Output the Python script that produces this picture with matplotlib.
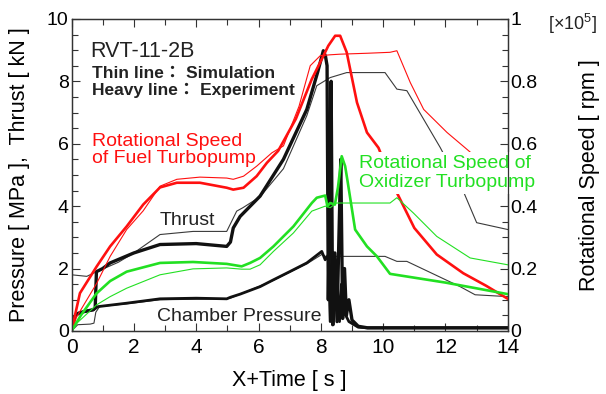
import matplotlib
matplotlib.use("Agg")
import matplotlib.pyplot as plt
from matplotlib.ticker import MultipleLocator, FuncFormatter

plt.rcParams['font.family'] = ['Liberation Sans', 'Noto Sans CJK JP', 'DejaVu Sans']
plt.rcParams['mathtext.fontset'] = 'custom'
plt.rcParams['mathtext.rm'] = 'Liberation Sans'

# ---------------- data ----------------
# Rotational speed of fuel turbopump [x1e5 rpm]
fuel_exp_t = [0, 0.27, 0.81, 1.24, 1.77, 2.3, 2.84, 3.38, 4.12, 4.98, 5.19, 5.52, 5.94, 6.27, 6.63,
              7.2, 7.71, 8.03, 8.24, 8.46, 8.62, 8.83, 9.16, 9.48, 9.85, 10.2, 10.44, 11.0, 11.72,
              12.57, 13.3, 14.0]
fuel_exp = [0, .121, .207, .271, .335, .405, .46, .475, .475, .459, .453, .459, .496, .539, .577,
            .68, .807, .871, .914, .946, .946, .893, .732, .636, .587, .50, .443, .33, .245,
            .185, .145, .103]
fuel_sim_t = [0, 0.17, 0.81, 1.24, 1.77, 2.3, 2.84, 3.38, 4.12, 4.98, 5.19, 5.52, 5.94, 6.43, 6.8,
              7.3, 7.66, 7.98, 8.3, 8.62, 9.5, 10.22, 10.44, 10.87, 11.3, 12.05, 12.63, 13.3, 14.0]
fuel_sim = [0, .046, .153, .239, .325, .385, .464, .486, .493, .49, .486, .496, .528, .571, .593,
            .72, .85, .882, .885, .887, .89, .893, .898, .796, .71, .636, .587, .53, .47]

# Rotational speed of oxidizer turbopump [x1e5 rpm]
ox_exp_t = [0, 0.3, 0.8, 1.24, 1.77, 2.84, 3.9, 4.98, 5.46, 5.73, 6.05, 6.48, 7.12, 7.71, 7.87,
            8.14, 8.21, 8.3, 8.45, 8.55, 8.67, 8.78, 8.85, 9.1, 9.48, 9.8, 10.22, 12.0, 14.0]
ox_exp = [0, .05, .12, .16, .19, .218, .221, .215, .207, .218, .234, .271, .335, .41, .427,
          .434, .40, .41, .405, .46, .56, .528, .485, .325, .271, .239, .183, .155, .118]
ox_sim_t = [0, 0.17, 0.81, 1.24, 1.77, 2.84, 3.9, 4.98, 5.46, 5.73, 6.05, 6.48, 7.12, 7.71, 8.14,
            8.3, 8.5, 10.22, 10.44, 10.97, 11.72, 12.79, 14.0]
ox_sim = [0, .025, .084, .11, .137, .18, .199, .202, .198, .198, .212, .255, .314, .384, .40,
          .395, .41, .41, .427, .378, .303, .234, .212]

# Thrust [kN]
thrust_exp_t = [0, 0.1, 0.17, 0.4, 0.7, 0.76, 0.8, 1.0, 1.24, 2.0, 2.84, 4.0, 4.98, 5.1, 5.19,
                5.41, 6.05, 6.8, 7.55, 7.9, 8.08, 8.15, 8.2, 8.24, 8.28, 8.33, 8.38, 8.45, 8.52,
                8.58, 8.64, 8.7, 8.76, 8.82, 8.9, 9.0, 9.2, 9.5, 14.0]
thrust_exp = [0, 0.45, 0.55, 0.62, 0.68, 0.75, 1.9, 2.0, 2.18, 2.5, 2.77, 2.8, 2.71, 2.85, 3.3,
              3.67, 4.32, 5.5, 7.1, 8.3, 8.98, 8.8, 8.5, 1.0, 4.0, 8.0, 0.2, 2.5, 0.3,
              3.0, 5.5, 0.4, 2.0, 0.5, 1.0, 0.35, 0.15, 0.1, 0.1]
thrust_sim_t = [0, 0.49, 0.81, 1.5, 2.0, 2.84, 3.9, 4.98, 5.3, 5.5, 6.05, 6.8, 7.55, 7.87, 8.3,
                8.83, 10.06, 10.44, 10.76, 11.83, 12.57, 13.0, 14.0]
thrust_sim = [1.8, 1.75, 1.9, 2.2, 2.5, 3.09, 3.19, 3.19, 3.84, 3.95, 4.3, 5.2, 6.9, 7.86, 8.12,
              8.28, 8.28, 7.75, 7.7, 5.88, 4.48, 3.47, 3.25]

# Chamber pressure [MPa]
pc_exp_t = [0, 0.1, 0.17, 0.4, 0.7, 0.85, 1.77, 2.84, 4.0, 4.98, 5.1, 5.41, 6.05, 6.48, 7.0, 7.55,
            8.03, 8.14, 8.24, 8.3, 8.35, 8.4, 8.5, 8.6, 8.66, 8.75, 8.9, 9.2, 9.5, 14.0]
pc_exp = [0, 0.45, 0.55, 0.62, 0.68, 0.78, 0.89, 1.03, 1.05, 1.03, 1.08, 1.18, 1.42, 1.64, 1.9, 2.18,
          2.55, 2.28, 2.44, 0.3, 2.6, 0.2, 2.0, 0.3, 1.5, 0.6, 0.3, 0.12, 0.1, 0.1]
pc_sim_t = [0, 0.2, 0.6, 0.72, 0.78, 0.9, 1.77, 2.84, 4.98, 5.1, 5.41, 6.48, 7.55, 8.03, 8.14, 8.2,
            8.3, 10.06, 10.44, 10.76, 12.47, 12.95, 14.0]
pc_sim = [0, 0.2, 0.22, 0.25, 0.6, 0.78, 0.87, 1.0, 1.03, 1.05, 1.18, 1.62, 2.15, 2.45, 2.4, 2.3,
          2.39, 2.39, 2.23, 2.23, 1.42, 1.16, 1.1]

x_ticks = [0, 2, 4, 6, 8, 10, 12, 14]
y_ticks = [0, 2, 4, 6, 8, 10]
y2_ticks = [0, 0.2, 0.4, 0.6, 0.8, 1.0]

# ---------------- style ----------------
RED = '#ff1010'
GREEN = '#22e022'
BLK = '#111111'
THIN_BLK = '#3a3a3a'
thin = 0.8
heavy = 1.9

fig = plt.figure(figsize=(6.06, 3.94), dpi=100)
ax = fig.add_axes([0.118, 0.160, 0.720, 0.792])
ax2 = ax.twinx()

ax.plot(thrust_sim_t, thrust_sim, color=THIN_BLK, lw=thin, zorder=2)
ax.plot(pc_sim_t, pc_sim, color=THIN_BLK, lw=thin, zorder=2)
ax.plot(thrust_exp_t, thrust_exp, color=BLK, lw=2.4, zorder=2.1)
ax.plot(pc_exp_t, pc_exp, color=BLK, lw=2.0, zorder=2.1)

ax2.plot(fuel_sim_t, fuel_sim, color=RED, lw=thin)
ax2.plot(fuel_exp_t, fuel_exp, color=RED, lw=heavy)
ax2.plot(ox_sim_t, ox_sim, color=GREEN, lw=thin)
ax2.plot(ox_exp_t, ox_exp, color=GREEN, lw=heavy)

ax.set_xlim(0, 14)
ax.set_ylim(0, 10)
ax2.set_ylim(0, 1)

ax.set_xticks(x_ticks)
ax.set_yticks(y_ticks)
ax2.set_yticks(y2_ticks)
ax.xaxis.set_minor_locator(MultipleLocator(1))
ax.yaxis.set_minor_locator(MultipleLocator(0.5))
ax2.yaxis.set_minor_locator(MultipleLocator(0.05))
ax2.yaxis.set_major_formatter(FuncFormatter(lambda v, p: '%g' % v))

for a in (ax, ax2):
    for s in a.spines.values():
        s.set_color('#333333')
        s.set_linewidth(0.9)
ax.tick_params(which='both', direction='in', top=True, right=False, color='#333333', width=0.8)
ax.tick_params(which='major', length=6)
ax.tick_params(which='minor', length=4)
ax.tick_params(axis='x', labelsize=15, pad=5)
ax.tick_params(axis='y', labelsize=14, pad=2)
ax2.tick_params(which='both', direction='in', right=True, color='#333333', width=0.8, labelsize=14, pad=2)
ax2.tick_params(which='major', length=6)
ax2.tick_params(which='minor', length=4)

ax.set_xlabel('X+Time [ s ]', fontsize=15.5, va='center')
ax.xaxis.set_label_coords(0.5, -0.16)
ax.set_ylabel('Pressure [ MPa ],  Thrust [ kN ]', fontsize=15.5)
ax.yaxis.label.set(rotation_mode='default', va='center', ha='center')
ax.yaxis.set_label_coords(-0.12, 0.5)
ax2.set_ylabel('Rotational Speed [ rpm ]', fontsize=15.5, rotation=90)
ax2.yaxis.label.set(rotation_mode='default', va='center', ha='center')
ax2.yaxis.set_label_coords(1.188, 0.5)

fig.text(548 / 606, 1 - 30 / 394, '[×10$^{5}$]', fontsize=13, ha='left', va='baseline', color='#222222')

T = ax2.transAxes
ax2.text(0.042, 0.877, 'RVT-11-2B', transform=T, fontsize=15.5, color='#222222', va='baseline')
ax2.text(0.046, 0.810, 'Thin line： Simulation', transform=T, fontsize=12.5, fontweight='bold',
         color='#222222', va='baseline')
ax2.text(0.046, 0.756, 'Heavy line： Experiment', transform=T, fontsize=12.5, fontweight='bold',
         color='#222222', va='baseline')
ax2.text(0.046, 0.592, 'Rotational Speed', transform=T, fontsize=14, color=RED, va='baseline')
ax2.text(0.046, 0.537, 'of Fuel Turbopump', transform=T, fontsize=14, color=RED, va='baseline')
box = dict(facecolor='white', edgecolor='none', pad=2.5)
ax2.text(0.659, 0.521, 'Rotational Speed of', transform=T, fontsize=14, color=GREEN, va='baseline',
         bbox=box, zorder=2.4)
ax2.text(0.659, 0.4625, 'Oxidizer Turbopump', transform=T, fontsize=14, color=GREEN, va='baseline',
         bbox=box, zorder=2.4)
ax2.text(0.266, 0.34, 'Thrust', transform=T, fontsize=14, color='#222222', va='baseline', ha='center')
ax2.text(0.195, 0.032, 'Chamber Pressure', transform=T, fontsize=14, color='#222222', va='baseline')

fig.savefig('out.png', dpi=100)
